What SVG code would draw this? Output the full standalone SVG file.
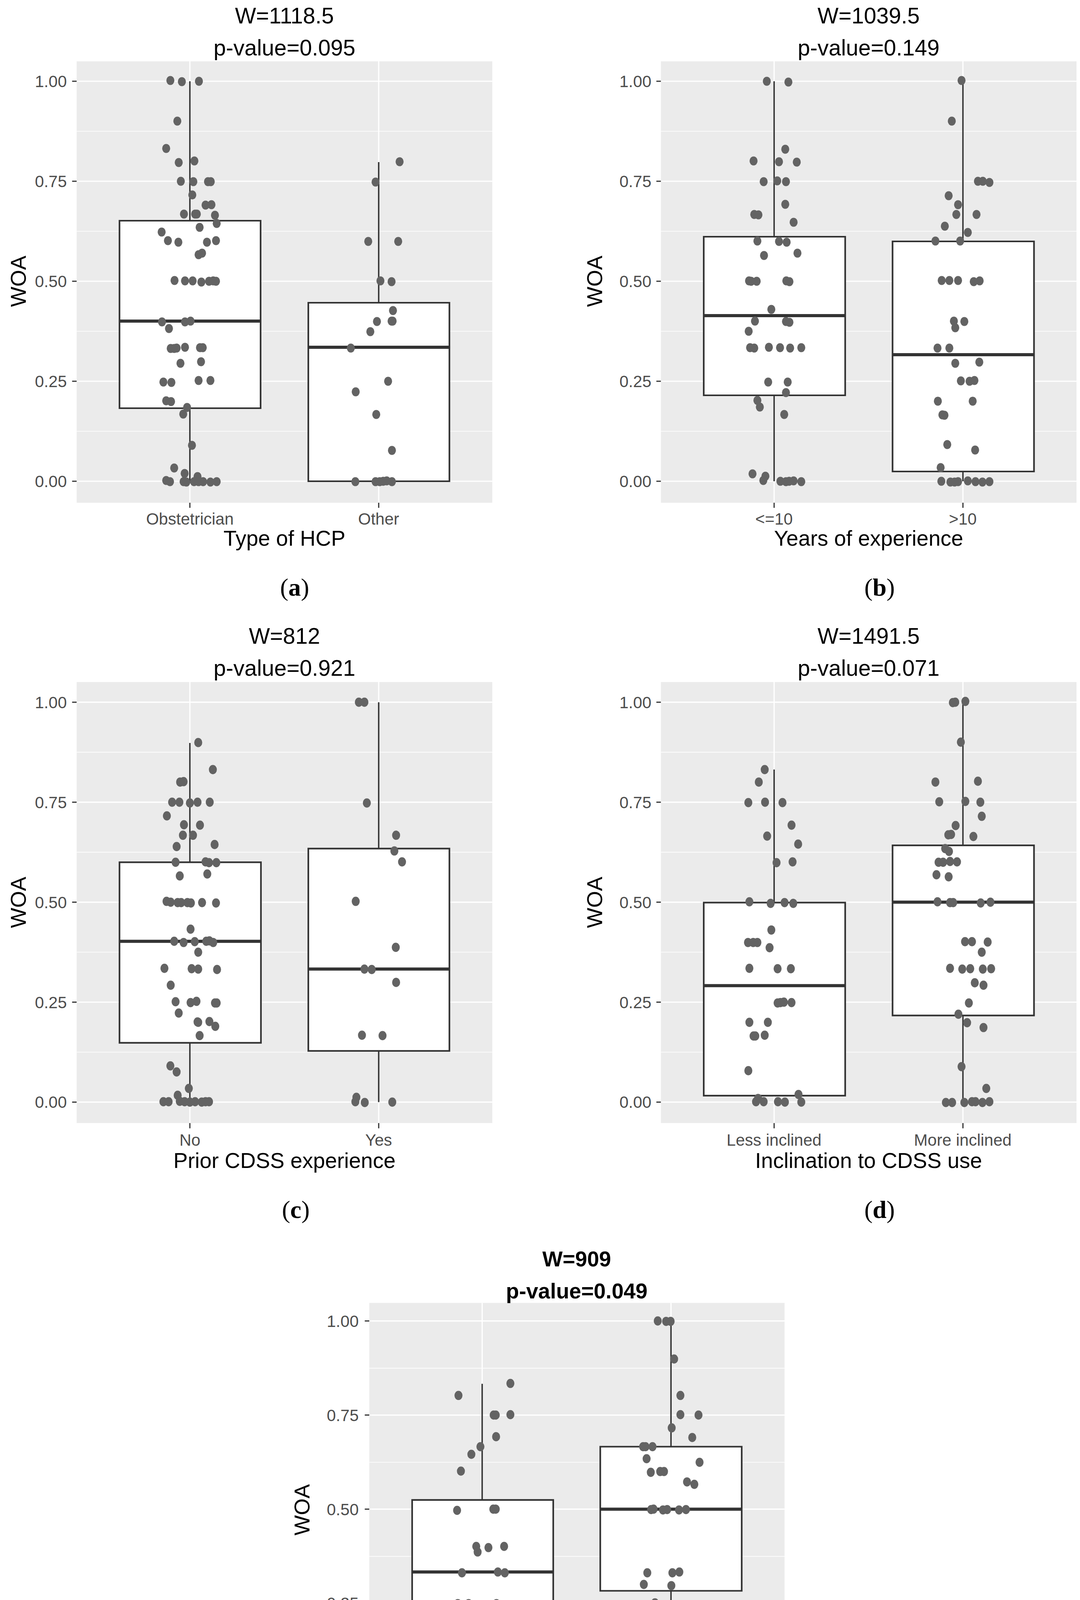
<svg xmlns="http://www.w3.org/2000/svg" width="2764" height="4739" viewBox="0 0 2764 4739">
<style>
text{font-family:"Liberation Sans",Arial,sans-serif}
.bg{fill:#ebebeb}
.gM{stroke:#fff;stroke-width:3.2;vector-effect:non-scaling-stroke}
.gm{stroke:#fff;stroke-width:1.6;vector-effect:non-scaling-stroke}
.tk{stroke:#333;stroke-width:3;vector-effect:non-scaling-stroke}
.bx{fill:#fff;stroke:#333;stroke-width:4.2;vector-effect:non-scaling-stroke}
.md{stroke:#333;stroke-width:8;vector-effect:non-scaling-stroke}
.wk{stroke:#333;stroke-width:3.6;vector-effect:non-scaling-stroke}
.pt circle{fill:#636363}
.ttl{font-size:57px;fill:#000;text-anchor:middle}
.ttlb{font-size:55px;fill:#000;text-anchor:middle;font-weight:bold}
.yl{font-size:42px;fill:#4d4d4d;text-anchor:end}
.xl{font-size:42px;fill:#4d4d4d;text-anchor:middle}
.at{font-size:55px;fill:#000;text-anchor:middle}
.cap{font-family:"Liberation Serif","Times New Roman",serif;font-size:64px;text-anchor:middle;fill:#000}
.cap tspan.b{font-weight:bold}
</style>

<!-- Panel a -->
<g id="panel-a">
<g transform="matrix(0.8916 0 0 1 0 0)">
<rect class="bg" x="220" y="157" width="1193" height="1130"/>
<line class="gm" x1="220" x2="1413" y1="336" y2="336"/><line class="gm" x1="220" x2="1413" y1="592" y2="592"/><line class="gm" x1="220" x2="1413" y1="848" y2="848"/><line class="gm" x1="220" x2="1413" y1="1104" y2="1104"/>
<line class="gM" x1="220" x2="1413" y1="208" y2="208"/><line class="gM" x1="220" x2="1413" y1="464" y2="464"/><line class="gM" x1="220" x2="1413" y1="720" y2="720"/><line class="gM" x1="220" x2="1413" y1="976" y2="976"/><line class="gM" x1="220" x2="1413" y1="1232" y2="1232"/>
<line class="gM" x1="545" x2="545" y1="157" y2="1287"/><line class="gM" x1="1087" x2="1087" y1="157" y2="1287"/>
<line class="tk" x1="207" x2="220" y1="208" y2="208"/><line class="tk" x1="207" x2="220" y1="464" y2="464"/><line class="tk" x1="207" x2="220" y1="720" y2="720"/><line class="tk" x1="207" x2="220" y1="976" y2="976"/><line class="tk" x1="207" x2="220" y1="1232" y2="1232"/>
<line class="tk" x1="545" x2="545" y1="1287" y2="1300"/><line class="tk" x1="1087" x2="1087" y1="1287" y2="1300"/>
<line class="wk" x1="545" x2="545" y1="208" y2="565"/><line class="wk" x1="545" x2="545" y1="1045" y2="1232"/>
<rect class="bx" x="343" y="565" width="405" height="480"/><line class="md" x1="343" x2="748" y1="822" y2="822"/>
<line class="wk" x1="1087" x2="1087" y1="415" y2="775"/>
<rect class="bx" x="885" y="775" width="405" height="457"/><line class="md" x1="885" x2="1290" y1="889" y2="889"/>
<g class="pt">
<circle cx="489" cy="206" r="11.5"/><circle cx="522" cy="209" r="11.5"/><circle cx="571" cy="208" r="11.5"/><circle cx="509" cy="310" r="11.5"/><circle cx="477" cy="380" r="11.5"/><circle cx="513" cy="416" r="11.5"/><circle cx="558" cy="412" r="11.5"/><circle cx="519" cy="464" r="11.5"/><circle cx="555" cy="465" r="11.5"/><circle cx="597" cy="465" r="11.5"/><circle cx="605" cy="465" r="11.5"/><circle cx="552" cy="499" r="11.5"/><circle cx="590" cy="525" r="11.5"/><circle cx="607" cy="524" r="11.5"/><circle cx="528" cy="548" r="11.5"/><circle cx="560" cy="548" r="11.5"/><circle cx="565" cy="548" r="11.5"/><circle cx="617" cy="551" r="11.5"/><circle cx="573" cy="582" r="11.5"/><circle cx="622" cy="572" r="11.5"/><circle cx="464" cy="594" r="11.5"/><circle cx="482" cy="616" r="11.5"/><circle cx="512" cy="620" r="11.5"/><circle cx="594" cy="620" r="11.5"/><circle cx="620" cy="616" r="11.5"/><circle cx="570" cy="652" r="11.5"/><circle cx="580" cy="648" r="11.5"/><circle cx="501" cy="718" r="11.5"/><circle cx="531" cy="719" r="11.5"/><circle cx="553" cy="719" r="11.5"/><circle cx="578" cy="722" r="11.5"/><circle cx="600" cy="720" r="11.5"/><circle cx="612" cy="719" r="11.5"/><circle cx="620" cy="720" r="11.5"/><circle cx="465" cy="824" r="11.5"/><circle cx="531" cy="824" r="11.5"/><circle cx="547" cy="822" r="11.5"/><circle cx="485" cy="841" r="11.5"/><circle cx="490" cy="892" r="11.5"/><circle cx="500" cy="892" r="11.5"/><circle cx="507" cy="891" r="11.5"/><circle cx="531" cy="889" r="11.5"/><circle cx="574" cy="890" r="11.5"/><circle cx="582" cy="890" r="11.5"/><circle cx="518" cy="930" r="11.5"/><circle cx="577" cy="926" r="11.5"/><circle cx="469" cy="978" r="11.5"/><circle cx="492" cy="979" r="11.5"/><circle cx="570" cy="974" r="11.5"/><circle cx="604" cy="974" r="11.5"/><circle cx="477" cy="1026" r="11.5"/><circle cx="491" cy="1028" r="11.5"/><circle cx="537" cy="1043" r="11.5"/><circle cx="526" cy="1060" r="11.5"/><circle cx="551" cy="1140" r="11.5"/><circle cx="500" cy="1198" r="11.5"/><circle cx="530" cy="1212" r="11.5"/><circle cx="567" cy="1220" r="11.5"/><circle cx="477" cy="1230" r="11.5"/><circle cx="488" cy="1233" r="11.5"/><circle cx="527" cy="1233" r="11.5"/><circle cx="535" cy="1234" r="11.5"/><circle cx="557" cy="1233" r="11.5"/><circle cx="570" cy="1233" r="11.5"/><circle cx="583" cy="1233" r="11.5"/><circle cx="604" cy="1234" r="11.5"/><circle cx="622" cy="1233" r="11.5"/>
<circle cx="1147" cy="414" r="11.5"/><circle cx="1078" cy="466" r="11.5"/><circle cx="1057" cy="618" r="11.5"/><circle cx="1143" cy="618" r="11.5"/><circle cx="1092" cy="719" r="11.5"/><circle cx="1124" cy="721" r="11.5"/><circle cx="1128" cy="795" r="11.5"/><circle cx="1082" cy="823" r="11.5"/><circle cx="1124" cy="822" r="11.5"/><circle cx="1127" cy="822" r="11.5"/><circle cx="1063" cy="849" r="11.5"/><circle cx="1007" cy="891" r="11.5"/><circle cx="1114" cy="976" r="11.5"/><circle cx="1021" cy="1003" r="11.5"/><circle cx="1080" cy="1061" r="11.5"/><circle cx="1125" cy="1153" r="11.5"/><circle cx="1020" cy="1233" r="11.5"/><circle cx="1078" cy="1233" r="11.5"/><circle cx="1090" cy="1233" r="11.5"/><circle cx="1100" cy="1232" r="11.5"/><circle cx="1110" cy="1231" r="11.5"/><circle cx="1125" cy="1233" r="11.5"/>
</g>
</g>
<text class="ttl" x="728" y="60">W=1118.5</text>
<text class="ttl" x="728" y="142">p-value=0.095</text>
<text class="yl" x="171" y="223">1.00</text><text class="yl" x="171" y="479">0.75</text><text class="yl" x="171" y="735">0.50</text><text class="yl" x="171" y="991">0.25</text><text class="yl" x="171" y="1247">0.00</text>
<text class="at" transform="translate(66 720) rotate(-90)">WOA</text>
<text class="xl" x="486" y="1343">Obstetrician</text><text class="xl" x="969" y="1343">Other</text>
<text class="at" x="728" y="1397">Type of HCP</text>
<text class="cap" x="754" y="1525">(<tspan class="b">a</tspan>)</text>
</g>

<!-- Panel b -->
<g id="panel-b">
<g transform="matrix(0.8916 0 0 1 1382 0)">
<rect class="bg" x="347" y="157" width="1193" height="1130"/>
<line class="gm" x1="347" x2="1540" y1="336" y2="336"/><line class="gm" x1="347" x2="1540" y1="592" y2="592"/><line class="gm" x1="347" x2="1540" y1="848" y2="848"/><line class="gm" x1="347" x2="1540" y1="1104" y2="1104"/>
<line class="gM" x1="347" x2="1540" y1="208" y2="208"/><line class="gM" x1="347" x2="1540" y1="464" y2="464"/><line class="gM" x1="347" x2="1540" y1="720" y2="720"/><line class="gM" x1="347" x2="1540" y1="976" y2="976"/><line class="gM" x1="347" x2="1540" y1="1232" y2="1232"/>
<line class="gM" x1="672" x2="672" y1="157" y2="1287"/><line class="gM" x1="1214" x2="1214" y1="157" y2="1287"/>
<line class="tk" x1="334" x2="347" y1="208" y2="208"/><line class="tk" x1="334" x2="347" y1="464" y2="464"/><line class="tk" x1="334" x2="347" y1="720" y2="720"/><line class="tk" x1="334" x2="347" y1="976" y2="976"/><line class="tk" x1="334" x2="347" y1="1232" y2="1232"/>
<line class="tk" x1="672" x2="672" y1="1287" y2="1300"/><line class="tk" x1="1214" x2="1214" y1="1287" y2="1300"/>
<line class="wk" x1="672" x2="672" y1="208" y2="606"/><line class="wk" x1="672" x2="672" y1="1012" y2="1232"/>
<rect class="bx" x="470" y="606" width="406" height="406"/><line class="md" x1="470" x2="876" y1="808" y2="808"/>
<line class="wk" x1="1214" x2="1214" y1="206" y2="618"/><line class="wk" x1="1214" x2="1214" y1="1207" y2="1232"/>
<rect class="bx" x="1012" y="618" width="406" height="589"/><line class="md" x1="1012" x2="1418" y1="908" y2="908"/>
<g class="pt">
<circle cx="651" cy="208" r="11.5"/><circle cx="713" cy="210" r="11.5"/><circle cx="704" cy="382" r="11.5"/><circle cx="613" cy="412" r="11.5"/><circle cx="686" cy="414" r="11.5"/><circle cx="737" cy="415" r="11.5"/><circle cx="642" cy="465" r="11.5"/><circle cx="681" cy="463" r="11.5"/><circle cx="706" cy="465" r="11.5"/><circle cx="704" cy="523" r="11.5"/><circle cx="615" cy="549" r="11.5"/><circle cx="627" cy="550" r="11.5"/><circle cx="728" cy="569" r="11.5"/><circle cx="624" cy="617" r="11.5"/><circle cx="686" cy="618" r="11.5"/><circle cx="708" cy="620" r="11.5"/><circle cx="739" cy="648" r="11.5"/><circle cx="643" cy="654" r="11.5"/><circle cx="600" cy="719" r="11.5"/><circle cx="606" cy="720" r="11.5"/><circle cx="622" cy="720" r="11.5"/><circle cx="707" cy="719" r="11.5"/><circle cx="716" cy="721" r="11.5"/><circle cx="664" cy="792" r="11.5"/><circle cx="617" cy="822" r="11.5"/><circle cx="706" cy="823" r="11.5"/><circle cx="716" cy="825" r="11.5"/><circle cx="599" cy="848" r="11.5"/><circle cx="603" cy="890" r="11.5"/><circle cx="615" cy="891" r="11.5"/><circle cx="657" cy="889" r="11.5"/><circle cx="689" cy="890" r="11.5"/><circle cx="718" cy="891" r="11.5"/><circle cx="750" cy="890" r="11.5"/><circle cx="655" cy="978" r="11.5"/><circle cx="711" cy="978" r="11.5"/><circle cx="706" cy="1005" r="11.5"/><circle cx="624" cy="1025" r="11.5"/><circle cx="631" cy="1042" r="11.5"/><circle cx="701" cy="1061" r="11.5"/><circle cx="610" cy="1213" r="11.5"/><circle cx="647" cy="1219" r="11.5"/><circle cx="641" cy="1230" r="11.5"/><circle cx="690" cy="1232" r="11.5"/><circle cx="706" cy="1233" r="11.5"/><circle cx="715" cy="1232" r="11.5"/><circle cx="728" cy="1231" r="11.5"/><circle cx="750" cy="1233" r="11.5"/>
<circle cx="1210" cy="206" r="11.5"/><circle cx="1182" cy="310" r="11.5"/><circle cx="1257" cy="464" r="11.5"/><circle cx="1271" cy="464" r="11.5"/><circle cx="1290" cy="467" r="11.5"/><circle cx="1173" cy="501" r="11.5"/><circle cx="1200" cy="524" r="11.5"/><circle cx="1195" cy="549" r="11.5"/><circle cx="1253" cy="549" r="11.5"/><circle cx="1162" cy="579" r="11.5"/><circle cx="1228" cy="595" r="11.5"/><circle cx="1135" cy="617" r="11.5"/><circle cx="1206" cy="617" r="11.5"/><circle cx="1153" cy="718" r="11.5"/><circle cx="1175" cy="718" r="11.5"/><circle cx="1200" cy="718" r="11.5"/><circle cx="1245" cy="721" r="11.5"/><circle cx="1262" cy="719" r="11.5"/><circle cx="1188" cy="822" r="11.5"/><circle cx="1218" cy="823" r="11.5"/><circle cx="1192" cy="839" r="11.5"/><circle cx="1141" cy="891" r="11.5"/><circle cx="1175" cy="891" r="11.5"/><circle cx="1192" cy="930" r="11.5"/><circle cx="1261" cy="927" r="11.5"/><circle cx="1208" cy="975" r="11.5"/><circle cx="1233" cy="976" r="11.5"/><circle cx="1247" cy="974" r="11.5"/><circle cx="1142" cy="1027" r="11.5"/><circle cx="1242" cy="1027" r="11.5"/><circle cx="1155" cy="1062" r="11.5"/><circle cx="1161" cy="1063" r="11.5"/><circle cx="1169" cy="1138" r="11.5"/><circle cx="1249" cy="1152" r="11.5"/><circle cx="1150" cy="1197" r="11.5"/><circle cx="1152" cy="1232" r="11.5"/><circle cx="1178" cy="1234" r="11.5"/><circle cx="1190" cy="1234" r="11.5"/><circle cx="1200" cy="1233" r="11.5"/><circle cx="1228" cy="1231" r="11.5"/><circle cx="1250" cy="1233" r="11.5"/><circle cx="1270" cy="1234" r="11.5"/><circle cx="1290" cy="1233" r="11.5"/>
</g>
</g>
<text class="ttl" x="2223" y="60">W=1039.5</text>
<text class="ttl" x="2223" y="142">p-value=0.149</text>
<text class="yl" x="1667" y="223">1.00</text><text class="yl" x="1667" y="479">0.75</text><text class="yl" x="1667" y="735">0.50</text><text class="yl" x="1667" y="991">0.25</text><text class="yl" x="1667" y="1247">0.00</text>
<text class="at" transform="translate(1541 720) rotate(-90)">WOA</text>
<text class="xl" x="1981" y="1343">&lt;=10</text><text class="xl" x="2464" y="1343">&gt;10</text>
<text class="at" x="2223" y="1397">Years of experience</text>
<text class="cap" x="2251" y="1525">(<tspan class="b">b</tspan>)</text>
</g>

<!-- Panel c -->
<g id="panel-c">
<g transform="matrix(0.8916 0 0 1.032 0 1550)">
<rect class="bg" x="220" y="190" width="1193" height="1094"/>
<line class="gm" x1="220" x2="1413" y1="364" y2="364"/><line class="gm" x1="220" x2="1413" y1="612" y2="612"/><line class="gm" x1="220" x2="1413" y1="860" y2="860"/><line class="gm" x1="220" x2="1413" y1="1108" y2="1108"/>
<line class="gM" x1="220" x2="1413" y1="240" y2="240"/><line class="gM" x1="220" x2="1413" y1="488" y2="488"/><line class="gM" x1="220" x2="1413" y1="736" y2="736"/><line class="gM" x1="220" x2="1413" y1="984" y2="984"/><line class="gM" x1="220" x2="1413" y1="1232" y2="1232"/>
<line class="gM" x1="545" x2="545" y1="190" y2="1284"/><line class="gM" x1="1087" x2="1087" y1="190" y2="1284"/>
<line class="tk" x1="207" x2="220" y1="240" y2="240"/><line class="tk" x1="207" x2="220" y1="488" y2="488"/><line class="tk" x1="207" x2="220" y1="736" y2="736"/><line class="tk" x1="207" x2="220" y1="984" y2="984"/><line class="tk" x1="207" x2="220" y1="1232" y2="1232"/>
<line class="tk" x1="545" x2="545" y1="1284" y2="1297"/><line class="tk" x1="1087" x2="1087" y1="1284" y2="1297"/>
<line class="wk" x1="545" x2="545" y1="341" y2="637"/><line class="wk" x1="545" x2="545" y1="1085" y2="1232"/>
<rect class="bx" x="343" y="637" width="406" height="448"/><line class="md" x1="343" x2="749" y1="833" y2="833"/>
<line class="wk" x1="1087" x2="1087" y1="240" y2="603"/><line class="wk" x1="1087" x2="1087" y1="1105" y2="1232"/>
<rect class="bx" x="885" y="603" width="405" height="502"/><line class="md" x1="885" x2="1290" y1="902" y2="902"/>
<g class="pt">
<circle cx="569" cy="340" r="11.5"/><circle cx="611" cy="407" r="11.5"/><circle cx="517" cy="438" r="11.5"/><circle cx="527" cy="437" r="11.5"/><circle cx="494" cy="488" r="11.5"/><circle cx="515" cy="488" r="11.5"/><circle cx="545" cy="490" r="11.5"/><circle cx="567" cy="488" r="11.5"/><circle cx="602" cy="488" r="11.5"/><circle cx="479" cy="522" r="11.5"/><circle cx="528" cy="544" r="11.5"/><circle cx="574" cy="545" r="11.5"/><circle cx="525" cy="570" r="11.5"/><circle cx="554" cy="570" r="11.5"/><circle cx="616" cy="593" r="11.5"/><circle cx="507" cy="598" r="11.5"/><circle cx="504" cy="637" r="11.5"/><circle cx="590" cy="636" r="11.5"/><circle cx="600" cy="638" r="11.5"/><circle cx="621" cy="638" r="11.5"/><circle cx="516" cy="671" r="11.5"/><circle cx="595" cy="666" r="11.5"/><circle cx="478" cy="734" r="11.5"/><circle cx="490" cy="736" r="11.5"/><circle cx="510" cy="737" r="11.5"/><circle cx="520" cy="737" r="11.5"/><circle cx="538" cy="737" r="11.5"/><circle cx="548" cy="738" r="11.5"/><circle cx="580" cy="737" r="11.5"/><circle cx="620" cy="738" r="11.5"/><circle cx="547" cy="803" r="11.5"/><circle cx="500" cy="833" r="11.5"/><circle cx="527" cy="836" r="11.5"/><circle cx="559" cy="834" r="11.5"/><circle cx="592" cy="833" r="11.5"/><circle cx="601" cy="832" r="11.5"/><circle cx="612" cy="836" r="11.5"/><circle cx="569" cy="860" r="11.5"/><circle cx="472" cy="900" r="11.5"/><circle cx="550" cy="901" r="11.5"/><circle cx="569" cy="902" r="11.5"/><circle cx="623" cy="903" r="11.5"/><circle cx="490" cy="942" r="11.5"/><circle cx="504" cy="983" r="11.5"/><circle cx="547" cy="985" r="11.5"/><circle cx="564" cy="982" r="11.5"/><circle cx="617" cy="986" r="11.5"/><circle cx="622" cy="986" r="11.5"/><circle cx="513" cy="1011" r="11.5"/><circle cx="567" cy="1033" r="11.5"/><circle cx="569" cy="1034" r="11.5"/><circle cx="601" cy="1032" r="11.5"/><circle cx="618" cy="1044" r="11.5"/><circle cx="573" cy="1067" r="11.5"/><circle cx="489" cy="1142" r="11.5"/><circle cx="507" cy="1157" r="11.5"/><circle cx="542" cy="1198" r="11.5"/><circle cx="510" cy="1215" r="11.5"/><circle cx="469" cy="1231" r="11.5"/><circle cx="484" cy="1231" r="11.5"/><circle cx="516" cy="1230" r="11.5"/><circle cx="530" cy="1231" r="11.5"/><circle cx="545" cy="1232" r="11.5"/><circle cx="560" cy="1231" r="11.5"/><circle cx="579" cy="1232" r="11.5"/><circle cx="590" cy="1231" r="11.5"/><circle cx="600" cy="1231" r="11.5"/>
<circle cx="1030" cy="240" r="11.5"/><circle cx="1046" cy="240" r="11.5"/><circle cx="1053" cy="490" r="11.5"/><circle cx="1137" cy="570" r="11.5"/><circle cx="1132" cy="609" r="11.5"/><circle cx="1154" cy="636" r="11.5"/><circle cx="1021" cy="734" r="11.5"/><circle cx="1136" cy="848" r="11.5"/><circle cx="1046" cy="902" r="11.5"/><circle cx="1067" cy="903" r="11.5"/><circle cx="1137" cy="935" r="11.5"/><circle cx="1039" cy="1066" r="11.5"/><circle cx="1098" cy="1067" r="11.5"/><circle cx="1023" cy="1220" r="11.5"/><circle cx="1020" cy="1231" r="11.5"/><circle cx="1047" cy="1233" r="11.5"/><circle cx="1126" cy="1232" r="11.5"/>
</g>
</g>
<text class="ttl" x="728" y="1648">W=812</text>
<text class="ttl" x="728" y="1730">p-value=0.921</text>
<text class="yl" x="171" y="1813">1.00</text><text class="yl" x="171" y="2069">0.75</text><text class="yl" x="171" y="2325">0.50</text><text class="yl" x="171" y="2581">0.25</text><text class="yl" x="171" y="2836">0.00</text>
<text class="at" transform="translate(66 2310) rotate(-90)">WOA</text>
<text class="xl" x="486" y="2933">No</text><text class="xl" x="969" y="2933">Yes</text>
<text class="at" x="728" y="2990">Prior CDSS experience</text>
<text class="cap" x="757" y="3118">(<tspan class="b">c</tspan>)</text>
</g>

<!-- Panel d -->
<g id="panel-d">
<g transform="matrix(0.8916 0 0 1.032 1382 1550)">
<rect class="bg" x="347" y="190" width="1193" height="1094"/>
<line class="gm" x1="347" x2="1540" y1="364" y2="364"/><line class="gm" x1="347" x2="1540" y1="612" y2="612"/><line class="gm" x1="347" x2="1540" y1="860" y2="860"/><line class="gm" x1="347" x2="1540" y1="1108" y2="1108"/>
<line class="gM" x1="347" x2="1540" y1="240" y2="240"/><line class="gM" x1="347" x2="1540" y1="488" y2="488"/><line class="gM" x1="347" x2="1540" y1="736" y2="736"/><line class="gM" x1="347" x2="1540" y1="984" y2="984"/><line class="gM" x1="347" x2="1540" y1="1232" y2="1232"/>
<line class="gM" x1="672" x2="672" y1="190" y2="1284"/><line class="gM" x1="1214" x2="1214" y1="190" y2="1284"/>
<line class="tk" x1="334" x2="347" y1="240" y2="240"/><line class="tk" x1="334" x2="347" y1="488" y2="488"/><line class="tk" x1="334" x2="347" y1="736" y2="736"/><line class="tk" x1="334" x2="347" y1="984" y2="984"/><line class="tk" x1="334" x2="347" y1="1232" y2="1232"/>
<line class="tk" x1="672" x2="672" y1="1284" y2="1297"/><line class="tk" x1="1214" x2="1214" y1="1284" y2="1297"/>
<line class="wk" x1="672" x2="672" y1="407" y2="737"/>
<rect class="bx" x="470" y="737" width="406" height="479"/><line class="md" x1="470" x2="876" y1="943" y2="943"/>
<line class="wk" x1="1214" x2="1214" y1="238" y2="595"/><line class="wk" x1="1214" x2="1214" y1="1017" y2="1232"/>
<rect class="bx" x="1012" y="595" width="406" height="422"/><line class="md" x1="1012" x2="1418" y1="736" y2="736"/>
<g class="pt">
<circle cx="645" cy="407" r="11.5"/><circle cx="628" cy="438" r="11.5"/><circle cx="598" cy="489" r="11.5"/><circle cx="646" cy="488" r="11.5"/><circle cx="696" cy="489" r="11.5"/><circle cx="722" cy="545" r="11.5"/><circle cx="652" cy="572" r="11.5"/><circle cx="741" cy="592" r="11.5"/><circle cx="679" cy="638" r="11.5"/><circle cx="725" cy="636" r="11.5"/><circle cx="601" cy="735" r="11.5"/><circle cx="662" cy="739" r="11.5"/><circle cx="702" cy="737" r="11.5"/><circle cx="727" cy="739" r="11.5"/><circle cx="664" cy="805" r="11.5"/><circle cx="597" cy="836" r="11.5"/><circle cx="612" cy="836" r="11.5"/><circle cx="624" cy="836" r="11.5"/><circle cx="659" cy="849" r="11.5"/><circle cx="601" cy="900" r="11.5"/><circle cx="682" cy="901" r="11.5"/><circle cx="720" cy="901" r="11.5"/><circle cx="682" cy="986" r="11.5"/><circle cx="690" cy="985" r="11.5"/><circle cx="700" cy="984" r="11.5"/><circle cx="722" cy="985" r="11.5"/><circle cx="601" cy="1034" r="11.5"/><circle cx="654" cy="1034" r="11.5"/><circle cx="613" cy="1068" r="11.5"/><circle cx="618" cy="1068" r="11.5"/><circle cx="645" cy="1066" r="11.5"/><circle cx="598" cy="1154" r="11.5"/><circle cx="742" cy="1213" r="11.5"/><circle cx="626" cy="1223" r="11.5"/><circle cx="620" cy="1231" r="11.5"/><circle cx="642" cy="1231" r="11.5"/><circle cx="683" cy="1231" r="11.5"/><circle cx="703" cy="1232" r="11.5"/><circle cx="750" cy="1232" r="11.5"/>
<circle cx="1185" cy="241" r="11.5"/><circle cx="1192" cy="240" r="11.5"/><circle cx="1221" cy="238" r="11.5"/><circle cx="1208" cy="339" r="11.5"/><circle cx="1135" cy="438" r="11.5"/><circle cx="1257" cy="436" r="11.5"/><circle cx="1146" cy="487" r="11.5"/><circle cx="1221" cy="486" r="11.5"/><circle cx="1264" cy="488" r="11.5"/><circle cx="1268" cy="523" r="11.5"/><circle cx="1193" cy="546" r="11.5"/><circle cx="1172" cy="569" r="11.5"/><circle cx="1180" cy="568" r="11.5"/><circle cx="1244" cy="573" r="11.5"/><circle cx="1163" cy="603" r="11.5"/><circle cx="1174" cy="610" r="11.5"/><circle cx="1144" cy="637" r="11.5"/><circle cx="1157" cy="637" r="11.5"/><circle cx="1177" cy="635" r="11.5"/><circle cx="1197" cy="636" r="11.5"/><circle cx="1138" cy="668" r="11.5"/><circle cx="1173" cy="673" r="11.5"/><circle cx="1141" cy="735" r="11.5"/><circle cx="1177" cy="737" r="11.5"/><circle cx="1186" cy="737" r="11.5"/><circle cx="1265" cy="738" r="11.5"/><circle cx="1293" cy="736" r="11.5"/><circle cx="1220" cy="834" r="11.5"/><circle cx="1240" cy="834" r="11.5"/><circle cx="1285" cy="835" r="11.5"/><circle cx="1268" cy="860" r="11.5"/><circle cx="1177" cy="900" r="11.5"/><circle cx="1212" cy="902" r="11.5"/><circle cx="1235" cy="901" r="11.5"/><circle cx="1271" cy="902" r="11.5"/><circle cx="1295" cy="901" r="11.5"/><circle cx="1248" cy="936" r="11.5"/><circle cx="1273" cy="942" r="11.5"/><circle cx="1231" cy="986" r="11.5"/><circle cx="1201" cy="1014" r="11.5"/><circle cx="1226" cy="1035" r="11.5"/><circle cx="1273" cy="1047" r="11.5"/><circle cx="1210" cy="1144" r="11.5"/><circle cx="1281" cy="1198" r="11.5"/><circle cx="1165" cy="1233" r="11.5"/><circle cx="1183" cy="1233" r="11.5"/><circle cx="1218" cy="1233" r="11.5"/><circle cx="1240" cy="1231" r="11.5"/><circle cx="1250" cy="1231" r="11.5"/><circle cx="1270" cy="1233" r="11.5"/><circle cx="1290" cy="1231" r="11.5"/>
</g>
</g>
<text class="ttl" x="2223" y="1648">W=1491.5</text>
<text class="ttl" x="2223" y="1730">p-value=0.071</text>
<text class="yl" x="1667" y="1813">1.00</text><text class="yl" x="1667" y="2069">0.75</text><text class="yl" x="1667" y="2325">0.50</text><text class="yl" x="1667" y="2581">0.25</text><text class="yl" x="1667" y="2836">0.00</text>
<text class="at" transform="translate(1541 2310) rotate(-90)">WOA</text>
<text class="xl" x="1981" y="2933">Less inclined</text><text class="xl" x="2464" y="2933">More inclined</text>
<text class="at" x="2223" y="2990">Inclination to CDSS use</text>
<text class="cap" x="2251" y="3118">(<tspan class="b">d</tspan>)</text>
</g>

<!-- Panel e -->
<g id="panel-e">
<g transform="matrix(0.8916 0 0 1.025 691 3150)">
<rect class="bg" x="285" y="181" width="1192" height="1035"/>
<line class="gm" x1="285" x2="1477" y1="344" y2="344"/><line class="gm" x1="285" x2="1477" y1="579" y2="579"/><line class="gm" x1="285" x2="1477" y1="814" y2="814"/><line class="gm" x1="285" x2="1477" y1="1049" y2="1049"/>
<line class="gM" x1="285" x2="1477" y1="226" y2="226"/><line class="gM" x1="285" x2="1477" y1="461" y2="461"/><line class="gM" x1="285" x2="1477" y1="696" y2="696"/><line class="gM" x1="285" x2="1477" y1="931" y2="931"/><line class="gM" x1="285" x2="1477" y1="1166" y2="1166"/>
<line class="gM" x1="609" x2="609" y1="181" y2="1216"/><line class="gM" x1="1151" x2="1151" y1="181" y2="1216"/>
<line class="tk" x1="272" x2="285" y1="226" y2="226"/><line class="tk" x1="272" x2="285" y1="461" y2="461"/><line class="tk" x1="272" x2="285" y1="696" y2="696"/><line class="tk" x1="272" x2="285" y1="931" y2="931"/><line class="tk" x1="272" x2="285" y1="1166" y2="1166"/>
<line class="tk" x1="609" x2="609" y1="1216" y2="1229"/><line class="tk" x1="1151" x2="1151" y1="1216" y2="1229"/>
<line class="wk" x1="609" x2="609" y1="383" y2="673"/>
<rect class="bx" x="408" y="673" width="405" height="480"/><line class="md" x1="408" x2="813" y1="853" y2="853"/>
<line class="wk" x1="1151" x2="1151" y1="226" y2="540"/><line class="wk" x1="1151" x2="1151" y1="900" y2="1166"/>
<rect class="bx" x="948" y="540" width="406" height="360"/><line class="md" x1="948" x2="1354" y1="696" y2="696"/>
<g class="pt">
<circle cx="690" cy="382" r="11.5"/><circle cx="541" cy="412" r="11.5"/><circle cx="642" cy="461" r="11.5"/><circle cx="648" cy="461" r="11.5"/><circle cx="690" cy="460" r="11.5"/><circle cx="649" cy="515" r="11.5"/><circle cx="604" cy="540" r="11.5"/><circle cx="578" cy="559" r="11.5"/><circle cx="548" cy="601" r="11.5"/><circle cx="537" cy="699" r="11.5"/><circle cx="641" cy="696" r="11.5"/><circle cx="648" cy="696" r="11.5"/><circle cx="592" cy="789" r="11.5"/><circle cx="627" cy="792" r="11.5"/><circle cx="672" cy="789" r="11.5"/><circle cx="596" cy="803" r="11.5"/><circle cx="551" cy="855" r="11.5"/><circle cx="654" cy="853" r="11.5"/><circle cx="674" cy="855" r="11.5"/><circle cx="539" cy="932" r="11.5"/><circle cx="570" cy="932" r="11.5"/><circle cx="650" cy="932" r="11.5"/><circle cx="532" cy="979" r="11.5"/><circle cx="611" cy="980" r="11.5"/><circle cx="645" cy="1011" r="11.5"/><circle cx="656" cy="1012" r="11.5"/><circle cx="551" cy="1151" r="11.5"/><circle cx="558" cy="1163" r="11.5"/><circle cx="531" cy="1168" r="11.5"/><circle cx="563" cy="1166" r="11.5"/><circle cx="604" cy="1166" r="11.5"/><circle cx="620" cy="1167" r="11.5"/><circle cx="639" cy="1166" r="11.5"/><circle cx="663" cy="1165" r="11.5"/>
<circle cx="1113" cy="226" r="11.5"/><circle cx="1137" cy="227" r="11.5"/><circle cx="1150" cy="227" r="11.5"/><circle cx="1160" cy="321" r="11.5"/><circle cx="1178" cy="412" r="11.5"/><circle cx="1178" cy="460" r="11.5"/><circle cx="1230" cy="461" r="11.5"/><circle cx="1153" cy="493" r="11.5"/><circle cx="1212" cy="517" r="11.5"/><circle cx="1071" cy="540" r="11.5"/><circle cx="1078" cy="540" r="11.5"/><circle cx="1098" cy="540" r="11.5"/><circle cx="1081" cy="570" r="11.5"/><circle cx="1233" cy="579" r="11.5"/><circle cx="1093" cy="604" r="11.5"/><circle cx="1120" cy="602" r="11.5"/><circle cx="1131" cy="602" r="11.5"/><circle cx="1197" cy="628" r="11.5"/><circle cx="1218" cy="634" r="11.5"/><circle cx="1094" cy="697" r="11.5"/><circle cx="1101" cy="696" r="11.5"/><circle cx="1128" cy="698" r="11.5"/><circle cx="1140" cy="697" r="11.5"/><circle cx="1174" cy="698" r="11.5"/><circle cx="1194" cy="697" r="11.5"/><circle cx="1083" cy="855" r="11.5"/><circle cx="1155" cy="855" r="11.5"/><circle cx="1175" cy="853" r="11.5"/><circle cx="1073" cy="884" r="11.5"/><circle cx="1152" cy="887" r="11.5"/><circle cx="1105" cy="930" r="11.5"/><circle cx="1207" cy="979" r="11.5"/><circle cx="1218" cy="990" r="11.5"/><circle cx="1072" cy="1081" r="11.5"/><circle cx="1125" cy="1133" r="11.5"/><circle cx="1085" cy="1166" r="11.5"/><circle cx="1104" cy="1166" r="11.5"/><circle cx="1116" cy="1167" r="11.5"/><circle cx="1174" cy="1165" r="11.5"/><circle cx="1215" cy="1168" r="11.5"/>
</g>
</g>
<text class="ttlb" x="1476" y="3242">W=909</text>
<text class="ttlb" x="1476" y="3324">p-value=0.049</text>
<text class="yl" x="918" y="3397">1.00</text><text class="yl" x="918" y="3638">0.75</text><text class="yl" x="918" y="3879">0.50</text><text class="yl" x="918" y="4119">0.25</text><text class="yl" x="918" y="4360">0.00</text>
<text class="at" transform="translate(792 3865) rotate(-90)">WOA</text>
<text class="xl" x="1234" y="4454">Less inclined</text><text class="xl" x="1717" y="4454">More inclined</text>
<text class="at" x="1474" y="4514">Inclination to CDSS use</text>
<text x="2006" y="4585" style="font-size:42px;text-anchor:end;fill:#000">*Obstetricians only</text>
<text class="cap" x="1504" y="4712">(<tspan class="b">e</tspan>)</text>
</g>
<g id="connectors"/>
</svg>
